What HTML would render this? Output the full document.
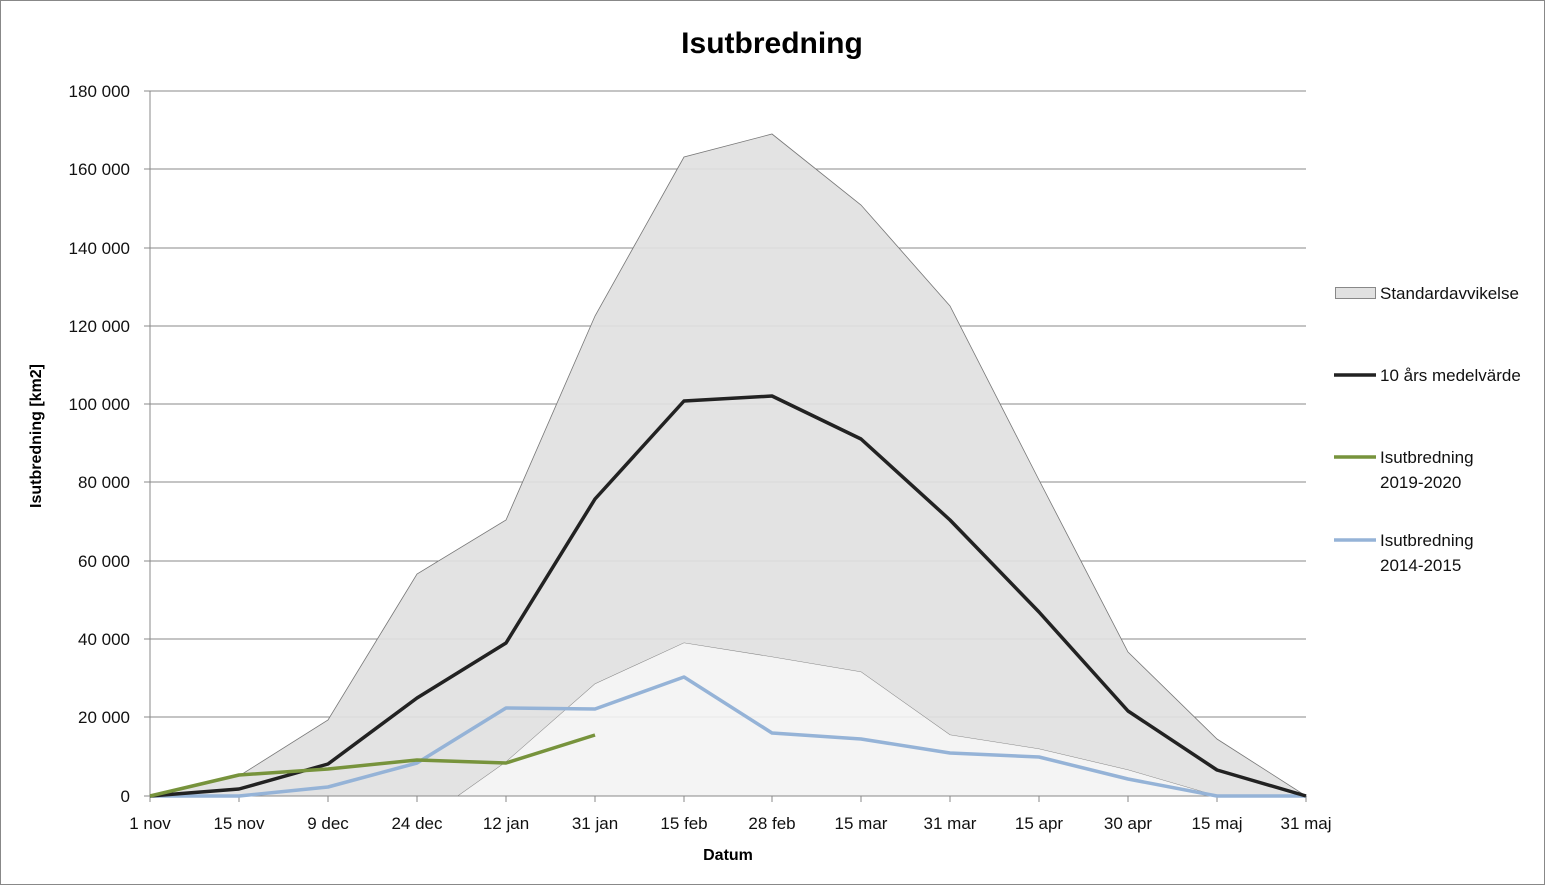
<!DOCTYPE html>
<html><head><meta charset="utf-8"><style>
body{margin:0;background:#fff}
svg{display:block;font-family:"Liberation Sans",sans-serif}
</style></head><body>
<svg width="1545" height="885" viewBox="0 0 1545 885">
<rect x="0.5" y="0.5" width="1544" height="884" fill="#fff" stroke="#888"/>
<text x="772" y="53" text-anchor="middle" font-size="30" font-weight="bold">Isutbredning</text>
<g stroke="#888" stroke-width="1">
<line x1="150" y1="91" x2="1306" y2="91"/><line x1="150" y1="169" x2="1306" y2="169"/>
<line x1="150" y1="248" x2="1306" y2="248"/><line x1="150" y1="326" x2="1306" y2="326"/>
<line x1="150" y1="404" x2="1306" y2="404"/><line x1="150" y1="482" x2="1306" y2="482"/>
<line x1="150" y1="561" x2="1306" y2="561"/><line x1="150" y1="639" x2="1306" y2="639"/>
<line x1="150" y1="717" x2="1306" y2="717"/>
</g>
<polygon fill="#e1e1e1" fill-opacity="0.92" stroke="#777" stroke-width="0.8" points="150,796 239,776 328,720 417,574 506,520 595,316 684,157 772,134 861,205 950,306 1039,480 1128,652 1217,739 1306,796 1217,796 1128,770 1039,749 950,735 861,672 772,657 684,643 595,684 506,762 458,796"/>
<polygon fill="#f3f3f3" fill-opacity="0.9" points="458,796 506,762 595,684 684,643 772,657 861,672 950,735 1039,749 1128,770 1217,796"/>
<g stroke="#888"><line x1="150" y1="91" x2="150" y2="802"/><line x1="144" y1="796" x2="1306" y2="796"/>
<line x1="144" y1="91" x2="150" y2="91"/><line x1="144" y1="169" x2="150" y2="169"/><line x1="144" y1="248" x2="150" y2="248"/><line x1="144" y1="326" x2="150" y2="326"/><line x1="144" y1="404" x2="150" y2="404"/><line x1="144" y1="482" x2="150" y2="482"/><line x1="144" y1="561" x2="150" y2="561"/><line x1="144" y1="639" x2="150" y2="639"/><line x1="144" y1="717" x2="150" y2="717"/>
<line x1="239" y1="796" x2="239" y2="802"/><line x1="328" y1="796" x2="328" y2="802"/><line x1="417" y1="796" x2="417" y2="802"/><line x1="506" y1="796" x2="506" y2="802"/><line x1="595" y1="796" x2="595" y2="802"/><line x1="684" y1="796" x2="684" y2="802"/><line x1="772" y1="796" x2="772" y2="802"/><line x1="861" y1="796" x2="861" y2="802"/><line x1="950" y1="796" x2="950" y2="802"/><line x1="1039" y1="796" x2="1039" y2="802"/><line x1="1128" y1="796" x2="1128" y2="802"/><line x1="1217" y1="796" x2="1217" y2="802"/><line x1="1306" y1="796" x2="1306" y2="802"/></g>
<g fill="none" stroke-width="3.5" stroke-linejoin="round">
<polyline stroke="#95b3d7" points="150,796 239,796 328,787 417,763 506,708 595,709 684,677 772,733 861,739 950,753 1039,757 1128,779 1217,796 1306,796"/>
<polyline stroke="#222" points="150,796 239,789 328,764 417,698 506,643 595,499 684,401 772,396 861,439 950,520 1039,612 1128,711 1217,770 1306,796"/>
<polyline stroke="#77933c" points="150,796 239,775 328,769 417,760 506,763 595,735"/>
</g>
<g font-size="17" text-anchor="end" fill="#111">
<text x="130" y="97">180 000</text><text x="130" y="175">160 000</text><text x="130" y="254">140 000</text><text x="130" y="332">120 000</text><text x="130" y="410">100 000</text><text x="130" y="488">80 000</text><text x="130" y="567">60 000</text><text x="130" y="645">40 000</text><text x="130" y="723">20 000</text><text x="130" y="802">0</text>
</g>
<g font-size="17" text-anchor="middle" fill="#111">
<text x="150" y="829">1 nov</text><text x="239" y="829">15 nov</text><text x="328" y="829">9 dec</text><text x="417" y="829">24 dec</text><text x="506" y="829">12 jan</text><text x="595" y="829">31 jan</text><text x="684" y="829">15 feb</text><text x="772" y="829">28 feb</text><text x="861" y="829">15 mar</text><text x="950" y="829">31 mar</text><text x="1039" y="829">15 apr</text><text x="1128" y="829">30 apr</text><text x="1217" y="829">15 maj</text><text x="1306" y="829">31 maj</text>
</g>
<text x="728" y="860" text-anchor="middle" font-size="16" font-weight="bold">Datum</text>
<text transform="translate(41,436) rotate(-90)" text-anchor="middle" font-size="16" font-weight="bold">Isutbredning [km2]</text>
<rect x="1335.5" y="287.5" width="40" height="11" fill="#e1e1e1" stroke="#888"/>
<line x1="1334" y1="375" x2="1376" y2="375" stroke="#222" stroke-width="3.5"/>
<line x1="1334" y1="457" x2="1376" y2="457" stroke="#77933c" stroke-width="3.5"/>
<line x1="1334" y1="540" x2="1376" y2="540" stroke="#95b3d7" stroke-width="3.5"/>
<g font-size="17" fill="#111">
<text x="1380" y="299">Standardavvikelse</text>
<text x="1380" y="381">10 års medelvärde</text>
<text x="1380" y="463">Isutbredning</text><text x="1380" y="488">2019-2020</text>
<text x="1380" y="546">Isutbredning</text><text x="1380" y="571">2014-2015</text>
</g>
</svg>
</body></html>
